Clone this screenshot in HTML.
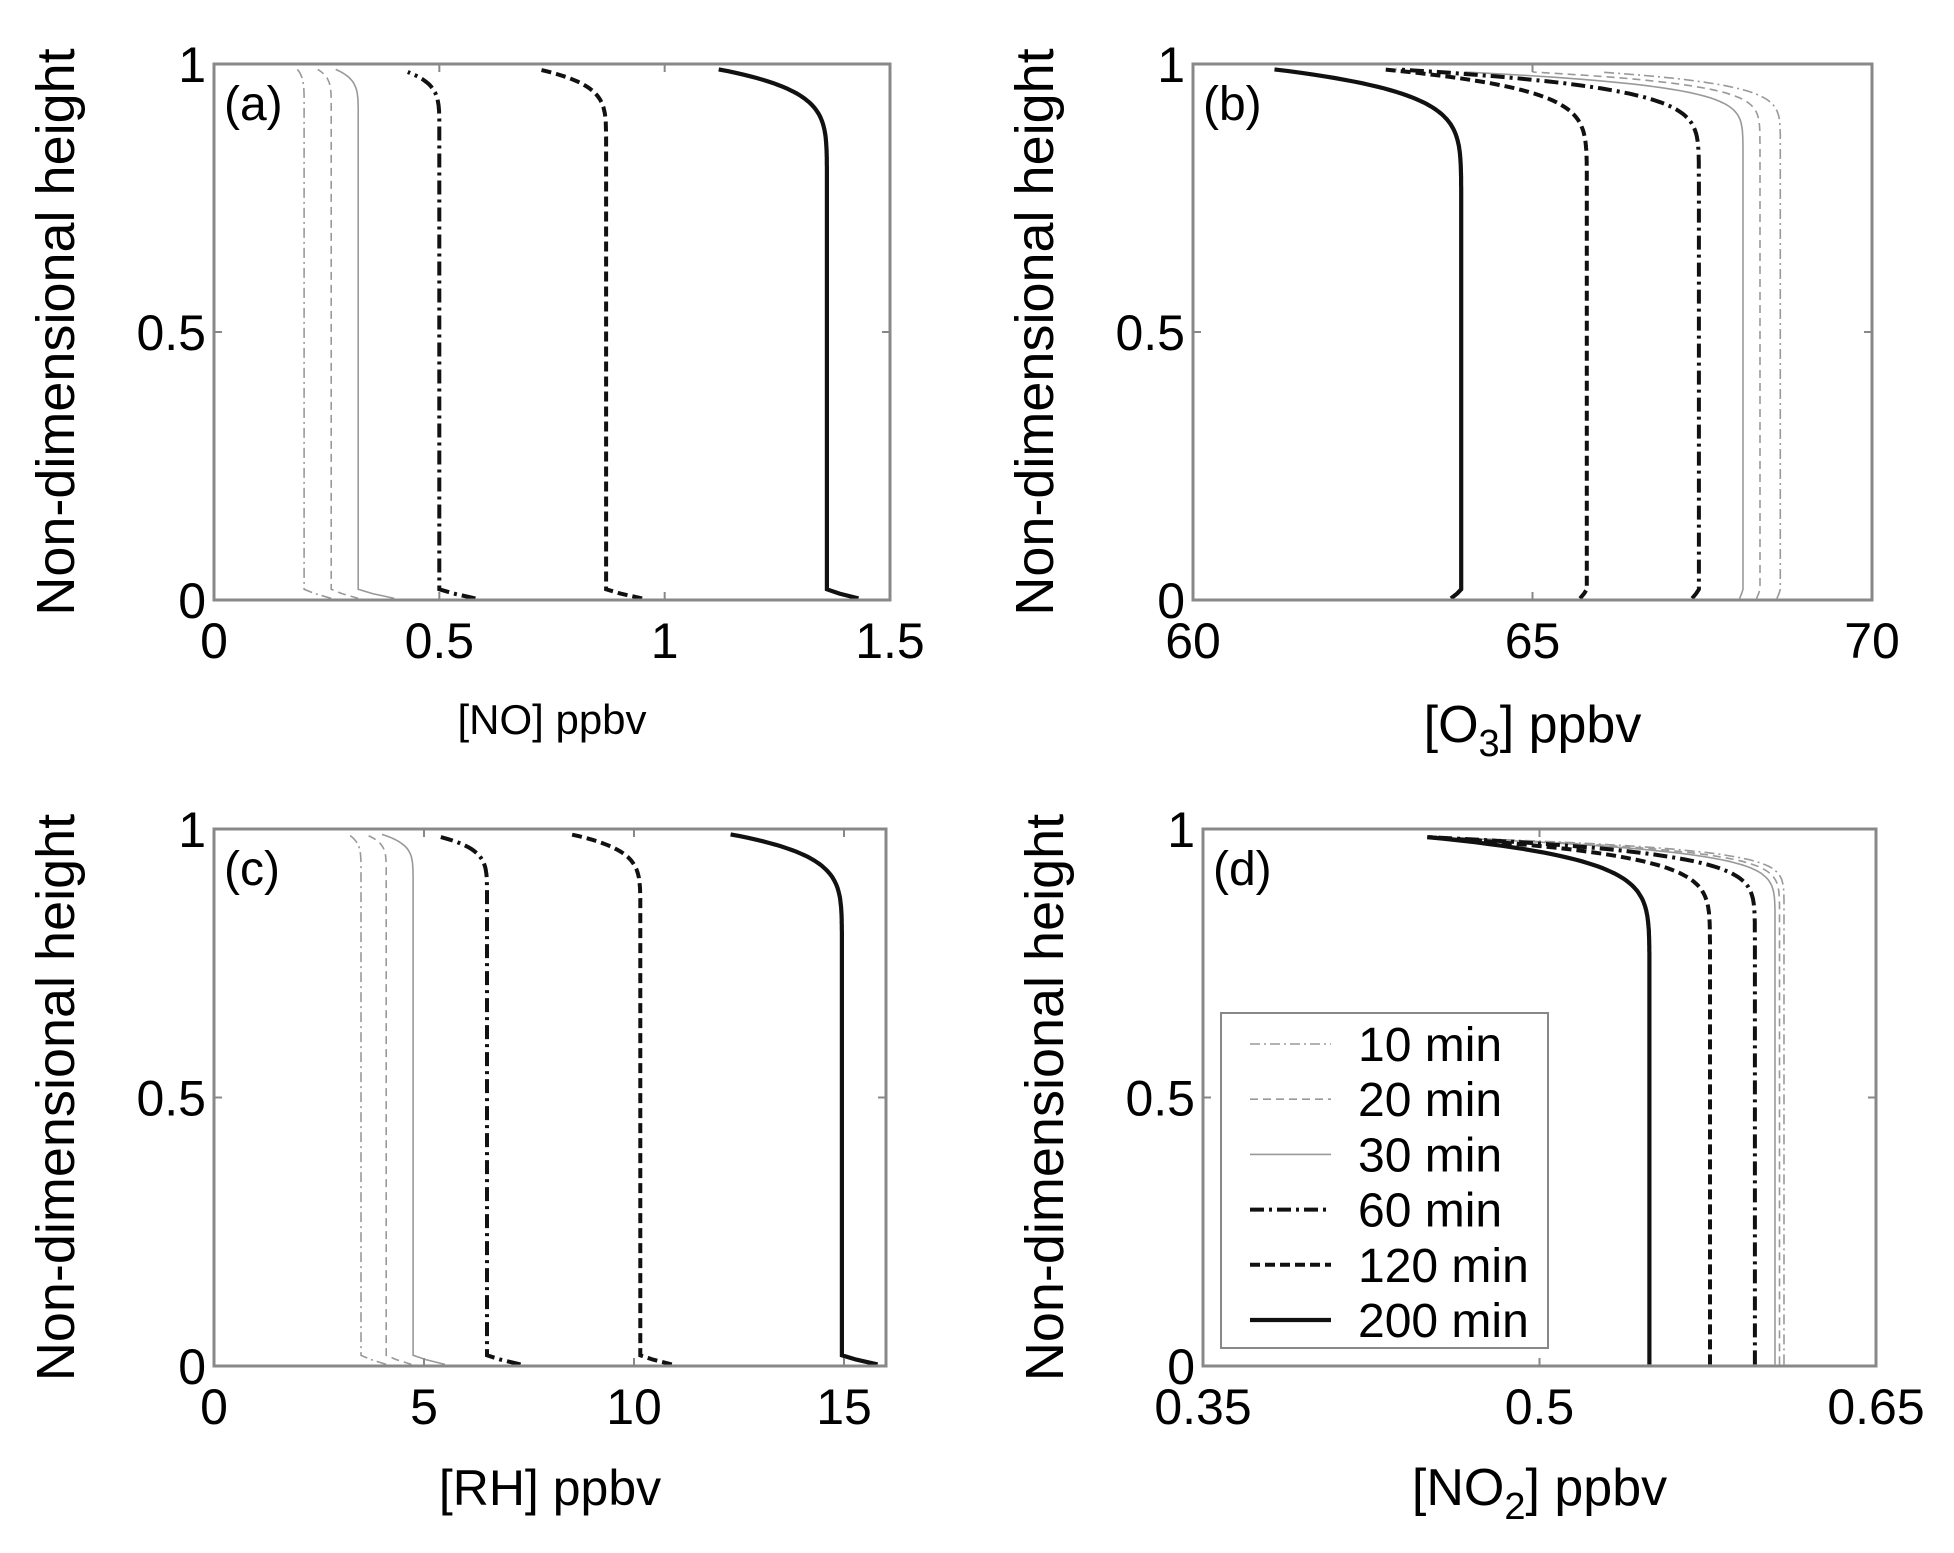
<!DOCTYPE html>
<html><head><meta charset="utf-8"><style>
body{margin:0;background:#fff;}
svg{display:block;font-family:"Liberation Sans",Arial,sans-serif;}
</style></head><body>
<svg id="s" width="1954" height="1553" viewBox="0 0 1954 1553" xmlns="http://www.w3.org/2000/svg"></svg>
<script>
const S=document.getElementById('s');let out='';
const styles=[
 {c:'#999',w:1.6,d:'10 4 2 4'},
 {c:'#999',w:1.6,d:'8 5'},
 {c:'#999',w:1.6,d:''},
 {c:'#111',w:4,d:'14 5 3 5'},
 {c:'#111',w:4,d:'10 5'},
 {c:'#111',w:4.2,d:''}];
function panel(P){
 const {x0,x1,y0,y1,xmin,xmax}=P;
 const X=v=>x0+(v-xmin)/(xmax-xmin)*(x1-x0);
 const Y=h=>y1-h*(y1-y0);
 P.curves.forEach((c,i)=>{
  const [v,vt,hb,p,vb,htop]=c;let pts=[];
  pts.push([X(vb),Y(0.003)]);
  pts.push([X(v+(vb-v)*0.4),Y(0.012)]);
  for(let k=0;k<=300;k++){
   const h=0.02+(htop-0.02)*k/300;let x=v;
   if(h>hb){const t=(h-hb)/(htop-hb);x=v+(vt-v)*Math.pow(t,p);}
   pts.push([X(x),Y(h)]);
  }
  const st=styles[i];
  out+=`<polyline points="${pts.map(q=>q[0].toFixed(1)+','+q[1].toFixed(1)).join(' ')}" fill="none" stroke="${st.c}" stroke-width="${st.w}" ${st.d?`stroke-dasharray="${st.d}"`:''}/>`;
 });
 out+=`<rect x="${x0}" y="${y0}" width="${x1-x0}" height="${y1-y0}" fill="none" stroke="#888" stroke-width="3"/>`;
 const ym=Y(0.5);
 out+=`<line x1="${x0}" y1="${ym}" x2="${x0+8}" y2="${ym}" stroke="#888" stroke-width="2"/><line x1="${x1}" y1="${ym}" x2="${x1-8}" y2="${ym}" stroke="#888" stroke-width="2"/>`;
 P.xt.forEach(t=>{const x=X(t[0]);
  out+=`<line x1="${x}" y1="${y1}" x2="${x}" y2="${y1-8}" stroke="#888" stroke-width="2"/><line x1="${x}" y1="${y0}" x2="${x}" y2="${y0+8}" stroke="#888" stroke-width="2"/>`;
  out+=`<text x="${x}" y="${y1+58}" font-size="50" text-anchor="middle">${t[1]}</text>`;});
 [[1,'1'],[0.5,'0.5'],[0,'0']].forEach(t=>{out+=`<text x="${x0-8}" y="${Y(t[0])+18}" font-size="50" text-anchor="end">${t[1]}</text>`;});
 out+=`<text x="${x0+10}" y="${y0+56}" font-size="48">${P.lab}</text>`;
 out+=`<text transform="translate(${x0-140},${(y0+y1)/2}) rotate(-90)" font-size="54" text-anchor="middle">Non-dimensional height</text>`;
 out+=`<text x="${(x0+x1)/2}" y="${P.ly}" font-size="${P.lf}" text-anchor="middle">${P.xl}</text>`;
}
panel({x0:214,x1:890,y0:64,y1:600,xmin:0,xmax:1.5,lab:'(a)',ly:734,lf:42,xl:'[NO] ppbv',
 xt:[[0,'0'],[0.5,'0.5'],[1,'1'],[1.5,'1.5']],
 curves:[[0.2,0.185,0.9,6,0.26,0.99],[0.26,0.23,0.9,6,0.32,0.99],[0.32,0.27,0.88,6,0.4,0.99],
  [0.5,0.43,0.85,6,0.58,0.985],[0.87,0.72,0.82,6,0.95,0.99],[1.36,1.12,0.72,7,1.43,0.99]]});
panel({x0:1193,x1:1872,y0:64,y1:600,xmin:60,xmax:70,lab:'(b)',ly:742,lf:52,xl:'[O<tspan dy="14" font-size="38">3</tspan><tspan dy="-14">] ppbv</tspan>',
 xt:[[60,'60'],[65,'65'],[70,'70']],
 curves:[[68.65,66,0.8,8,68.6,0.985],[68.35,65,0.8,8,68.3,0.985],[68.1,64,0.78,8,68.05,0.985],
  [67.45,63,0.72,8,67.35,0.99],[65.8,62.8,0.7,8,65.7,0.99],[63.95,61.2,0.65,8,63.8,0.99]]});
panel({x0:214,x1:886,y0:829,y1:1366,xmin:0,xmax:16,lab:'(c)',ly:1505,lf:50,xl:'[RH] ppbv',
 xt:[[0,'0'],[5,'5'],[10,'10'],[15,'15']],
 curves:[[3.5,3.2,0.9,6,4.1,0.99],[4.1,3.6,0.9,6,4.7,0.99],[4.74,4.0,0.88,6,5.5,0.99],
  [6.5,5.4,0.85,6,7.3,0.985],[10.15,8.5,0.82,6,10.9,0.99],[14.95,12.3,0.72,7,15.8,0.99]]});
panel({x0:1203,x1:1876,y0:829,y1:1366,xmin:0.35,xmax:0.65,lab:'(d)',ly:1505,lf:52,xl:'[NO<tspan dy="14" font-size="38">2</tspan><tspan dy="-14">] ppbv</tspan>',
 xt:[[0.35,'0.35'],[0.5,'0.5'],[0.65,'0.65']],
 curves:[[0.609,0.45,0.8,9,0.609,0.985],[0.607,0.45,0.78,9,0.607,0.985],[0.605,0.45,0.76,9,0.605,0.985],
  [0.596,0.45,0.72,9,0.596,0.985],[0.576,0.45,0.68,9,0.576,0.985],[0.549,0.45,0.62,9,0.549,0.985]]});
out+=`<rect x="1221" y="1013" width="327" height="335" fill="#fff" stroke="#888" stroke-width="2"/>`;
const names=['10 min','20 min','30 min','60 min','120 min','200 min'];
names.forEach((n,i)=>{const y=1044+i*55.2;const st=styles[i];
 out+=`<line x1="1250" y1="${y}" x2="1331" y2="${y}" stroke="${st.c}" stroke-width="${st.w}" ${st.d?`stroke-dasharray="${st.d}"`:''}/>`;
 out+=`<text x="1358" y="${y+17}" font-size="48">${n}</text>`;});
S.innerHTML=out;
</script>
</body></html>
